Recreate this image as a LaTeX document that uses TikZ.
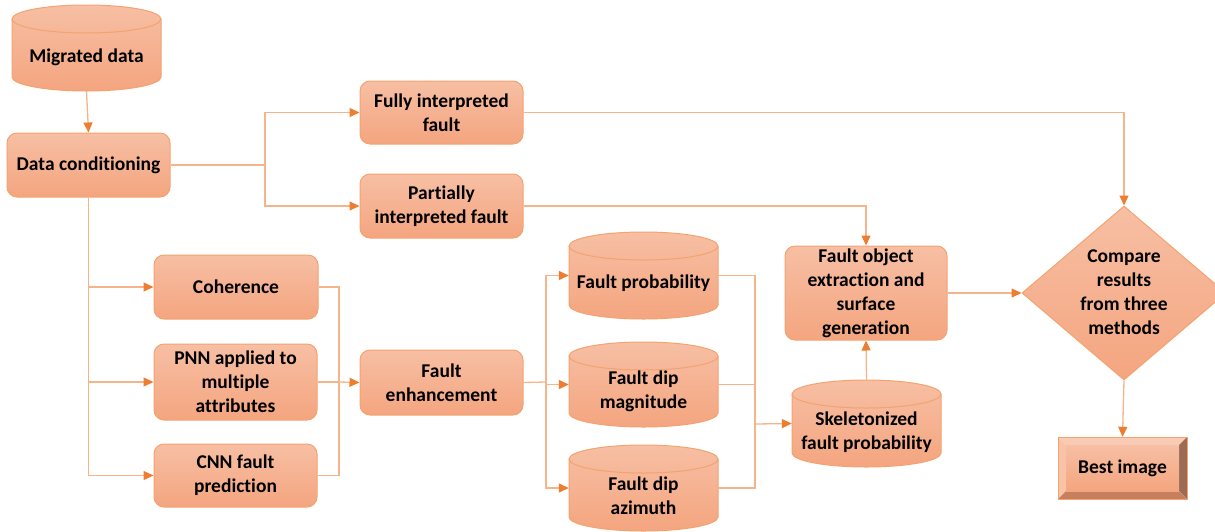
\documentclass[tikz,border=0pt]{standalone}
\usepackage{fontspec}
\setmainfont{Carlito}[Ligatures=NoCommon]
\usetikzlibrary{arrows.meta,shapes.geometric}

\definecolor{ft}{HTML}{F7BFA4}
\definecolor{fb}{HTML}{F4A57F}
\definecolor{bc}{HTML}{F3A36F}
\definecolor{lc}{HTML}{F5B48A}
\definecolor{ac}{HTML}{ED7D31}
\definecolor{bevlight}{HTML}{F9CBB4}
\definecolor{bevleft}{HTML}{F8C3A7}
\definecolor{bevright}{RGB}{155,107,85}
\definecolor{bevbottom}{RGB}{199,128,95}

\tikzset{
  txt/.style={align=center, font=\fontsize{19.5}{24}\selectfont\bfseries, text=black, inner sep=0pt},
  box/.style={txt, rectangle, rounded corners=10pt, draw=bc, line width=1pt,
    top color=ft, bottom color=fb},
  cyl/.style={draw=bc, line width=1pt, top color=ft, bottom color=fb},
  cylrim/.style={draw=bc, line width=1pt},
  line/.style={draw=lc, line width=1.3pt},
  arr/.style={line, -{Triangle[length=10pt,width=9pt,color=ac,fill=ac]}},
}

% database drum: name, centre x, top y, bottom y, text y, text
\newcommand\drum[6]{%
  \path[cyl] (#2-74.5,#3+14) -- (#2-74.5,#4-14)
    arc[start angle=180,end angle=360,x radius=74.5pt,y radius=14pt]
    -- (#2+74.5,#3+14)
    arc[start angle=0,end angle=180,x radius=74.5pt,y radius=14pt] -- cycle;
  \draw[cylrim] (#2-74.5,#3+14)
    arc[start angle=180,end angle=360,x radius=74.5pt,y radius=14pt];
  \node[inner sep=0pt, minimum width=149pt, minimum height={(#4)-(#3)}]
    (#1) at (#2,{((#3)+(#4))/2}) {};
  \node[txt] (#1-t) at (#2,#5) {#6};
}

\begin{document}
\begin{tikzpicture}[x=1pt,y=-1pt]
\useasboundingbox (0,0) rectangle (1215,531);

% storage drums
\drum{mig}{86.5}{5}{91}{57}{Migrated data}
\drum{fp}{643.5}{232}{319}{283}{Fault probability}
\drum{fdm}{643.5}{342}{427}{391}{Fault dip\\magnitude}
\drum{fda}{643.5}{445}{531}{496}{Fault dip\\azimuth}
\drum{skel}{866.5}{380}{467}{432}{Skeletonized\\fault probability}

% process boxes
\node[box, minimum width=163pt, minimum height=64pt] (dc) at (88.5,165) {\raisebox{-1.5pt}{Data conditioning}};
\node[box, minimum width=163pt, minimum height=63pt] (fif) at (441.5,112.5) {Fully interpreted\\fault};
\node[box, minimum width=163pt, minimum height=64pt] (pif) at (441.5,206) {Partially\\interpreted fault};
\node[box, minimum width=164pt, minimum height=64pt] (coh) at (236,287) {\raisebox{-1.5pt}{Coherence}};
\node[box, minimum width=163pt, minimum height=76pt] (pnn) at (235.5,382) {PNN applied to\\multiple\\attributes};
\node[box, minimum width=163pt, minimum height=63pt] (cnn) at (235.5,475.5) {CNN fault\\prediction};
\node[box, minimum width=163pt, minimum height=65pt] (fe) at (441.5,382.5) {Fault\\enhancement};
\node[box, minimum width=162pt, minimum height=94pt] (fo) at (866,293) {Fault object\\extraction and\\surface\\generation};

% decision
\node[diamond, draw=bc, line width=1pt, top color=ft, bottom color=fb,
  minimum width=204pt, minimum height=174pt, inner sep=0pt] (cmp) at (1124,293) {};
\node[txt] (cmp-t) at (1124,292) {Compare\\results\\from three\\methods};

% bevelled result box
\fill[bevlight] (1058,437) -- (1187,437) -- (1179,445) -- (1066,445) -- cycle;
\fill[bevleft] (1058,437) -- (1066,445) -- (1066,491) -- (1058,499) -- cycle;
\fill[bevright] (1187,437) -- (1187,499) -- (1179,491) -- (1179,445) -- cycle;
\fill[bevbottom] (1058,499) -- (1187,499) -- (1179,491) -- (1066,491) -- cycle;
\shade[top color=ft, bottom color=fb] (1066,445) rectangle (1179,491);
\draw[bc, line width=1pt] (1058,437) rectangle (1187,499);
\node[txt, minimum width=129pt, minimum height=62pt] (best) at (1122.5,468) {\raisebox{-1.5pt}{Best image}};

% split points
\coordinate (s1) at (265,165);
\coordinate (s3) at (339,382);
\coordinate (s4) at (546,382);
\coordinate (s5) at (755,424);

% connectors
\draw[arr] (mig.south) -- (dc.north);
\draw[line] (dc.east) -- (s1);
\draw[arr] (s1) |- (fif.west);
\draw[arr] (s1) |- (pif.west);
\draw[arr] (fif.east) -| (cmp.north);
\draw[arr] (pif.east) -| (fo.north);

\draw[line] (dc.south) -- (dc.south |- cnn.west);
\draw[arr] (dc.south |- coh.west) -- (coh.west);
\draw[arr] (dc.south |- pnn.west) -- (pnn.west);
\draw[arr] (dc.south |- cnn.west) -- (cnn.west);

\draw[line] (coh.east) -| (s3);
\draw[line] (cnn.east) -| (s3);
\draw[line] (pnn.east) -- (s3);
\draw[arr] (s3) -- (fe.west);

\draw[line] (fe.east) -- (s4);
\draw[arr] (s4) |- (fp.west);
\draw[arr] (s4) |- (fdm.west);
\draw[arr] (s4) |- (fda.west);

\draw[line] (fp.east) -| (s5);
\draw[line] (fdm.east) -| (s5);
\draw[line] (fda.east) -| (s5);
\draw[arr] (s5) -- (skel.west);

\draw[arr] (skel.north) -- (fo.south);
\draw[arr] (fo.east) -- (cmp.west);
\draw[arr] (cmp.south) -- (best.north);
\end{tikzpicture}
\end{document}
